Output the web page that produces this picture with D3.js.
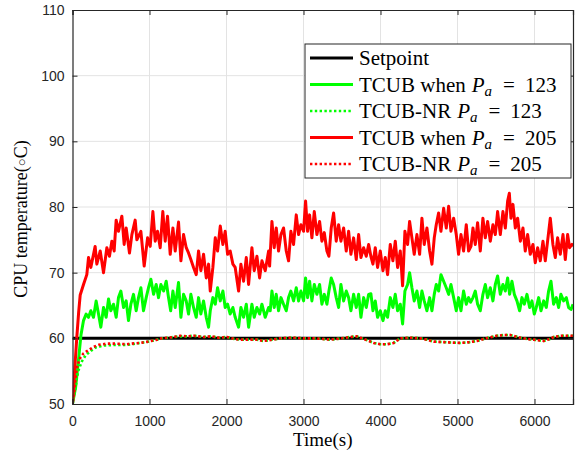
<!DOCTYPE html>
<html>
<head>
<meta charset="utf-8">
<script src="https://cdn.jsdelivr.net/npm/d3@7"></script>
<style>
  body { margin: 0; background: #fff; }
  .tick text { font-family: "Liberation Sans", Arial, sans-serif; font-size: 14px; fill: #262626; }
  .serif { font-family: "Liberation Serif", "Times New Roman", serif; fill: #000; }
</style>
</head>
<body>
<div id="chart"></div>
<script>
// values, [time (s), temperature (C)]
const setpoint = [[0, 60], [6500, 60]];

const tcub123 = [
  [0,50],[40,52.5],[80,57],[110,60.5],[143,62.7],[177,63.7],[208,63.2],[238,64.2],[273,63.2],[307,65.7],
  [338,63.7],[368,61.7],[403,64.7],[437,63.2],[468,66],[498,64.2],[533,65.2],[567,63.2],[597,66.2],[628,67.2],
  [663,64.7],[697,65.7],[727,62.7],[758,65.2],[792,66.7],[827,64.2],[857,66.2],[888,67.7],[922,64.2],[957,66.2],
  [987,67.7],[1018,69],[1053,66.7],[1087,68.2],[1117,66.2],[1148,68.2],[1183,67.2],[1217,68.7],[1247,66.2],[1275,64.2],
  [1304,67.2],[1334,64.7],[1377,68.5],[1408,63.2],[1442,66.7],[1477,65.7],[1507,63.7],[1537,66.7],[1572,64.7],[1607,63.2],
  [1637,66.2],[1667,63.7],[1702,65.7],[1737,63.2],[1767,61.7],[1789,64.2],[1823,66.2],[1854,65.2],[1884,67.7],[1919,65.7],
  [1953,67.2],[1983,64.7],[2014,65.2],[2048,63.7],[2083,64.7],[2113,63.2],[2157,61.7],[2187,64.7],[2222,63.2],[2257,65.2],
  [2287,61.7],[2330,65.2],[2360,63.2],[2395,64.7],[2430,63.7],[2460,65.2],[2503,63.2],[2547,64.7],[2568,64.2],[2590,67.2],
  [2620,64.7],[2646,66.7],[2676,64.2],[2707,66.2],[2741,65.2],[2776,64.2],[2806,66.2],[2836,67.2],[2871,65.7],[2906,67.7],
  [2936,65.7],[2966,67.2],[3001,65.7],[3027,69.2],[3053,66.2],[3079,68.7],[3109,65.7],[3140,68.2],[3174,66.7],[3209,68.2],
  [3239,65.2],[3270,66.7],[3304,65.2],[3330,67.2],[3360,69.2],[3391,68.2],[3425,66.2],[3456,64.7],[3486,68.2],[3521,65.7],
  [3555,67.2],[3586,66.2],[3616,64.2],[3651,66.7],[3685,64.7],[3716,66.7],[3746,63.2],[3781,66.2],[3815,64.7],[3846,66.7],
  [3875,66.8],[3902,64.2],[3932,65.7],[3962,63.2],[3997,64.2],[4032,62.7],[4062,64.2],[4092,63.2],[4127,66.2],[4161,64.7],
  [4192,66.7],[4222,64.2],[4257,65.2],[4287,62.2],[4317,67.2],[4352,68.2],[4378,70],[4408,67.7],[4438,65.7],[4473,67.2],
  [4508,64.7],[4538,67.2],[4568,65.7],[4603,64.2],[4638,66.2],[4668,64.2],[4698,66.7],[4724,68.2],[4755,67.2],[4785,69.7],
  [4820,68.7],[4854,67.7],[4885,66.7],[4915,68.2],[4950,66.2],[4984,64.2],[5014,66.2],[5045,64.2],[5079,67.2],[5114,65.2],
  [5144,66.2],[5170,65.5],[5201,66.2],[5231,67.2],[5261,65.2],[5296,64.2],[5330,66.7],[5361,68.2],[5391,66.2],[5426,67.7],
  [5460,65.7],[5491,68.2],[5521,69.5],[5556,66.7],[5590,68.2],[5621,67.2],[5651,69.2],[5677,66.7],[5707,68.7],[5738,66.7],
  [5772,65.7],[5807,64.2],[5837,66.2],[5868,65.2],[5902,66.7],[5937,64.7],[5967,65.7],[5997,63.7],[6023,64.7],[6054,66.2],
  [6084,64.2],[6119,65.7],[6153,64.7],[6183,67.2],[6214,68.7],[6248,65.2],[6283,66.2],[6313,64.7],[6343,66.7],[6378,65.7],
  [6413,66.2],[6443,64.7],[6474,64.4],[6500,65.2]
];

const tcub205 = [
  [0,50],[30,55.5],[55,60],[80,64],[100,66.6],[143,68.2],[186,69.7],[208,72.3],[238,70.8],[294,74],
  [316,71.3],[360,73.3],[403,70],[446,73.8],[480,72.5],[511,74.8],[541,73.3],[567,78],[597,76.3],[641,78.6],
  [671,74.3],[697,76.8],[740,73],[771,75.8],[814,78],[836,75],[888,76.3],[931,71],[975,75.3],[1009,74],
  [1044,79.3],[1074,74.8],[1104,76.3],[1139,73.8],[1173,79.3],[1204,74.8],[1234,78.6],[1269,72.8],[1304,76.8],[1334,73.3],
  [1377,77.7],[1408,71.8],[1442,75.8],[1477,73.8],[1507,73],[1537,72],[1572,70.8],[1607,69.7],[1637,73.3],[1667,70.3],
  [1702,72.8],[1737,69.2],[1767,71.3],[1789,67.2],[1823,70.8],[1854,75.3],[1884,73.3],[1919,77.1],[1953,74.3],[1983,76.3],
  [2014,72.8],[2048,73.3],[2083,71.3],[2113,70.8],[2157,67.2],[2187,71.3],[2222,68.7],[2257,72.3],[2287,68.2],[2330,73.8],
  [2360,70.3],[2395,72.5],[2430,69.2],[2460,71.8],[2503,70.3],[2547,73.3],[2560,71],[2590,77.8],[2620,73.8],[2646,76.8],
  [2676,73.3],[2707,75.8],[2741,76.8],[2776,73.3],[2806,71.8],[2836,76.3],[2871,74.3],[2906,78.8],[2936,75.8],[2966,77.3],
  [3001,76.3],[3027,80.9],[3053,76.3],[3079,78.8],[3109,75.3],[3140,79.3],[3174,75.8],[3209,77.8],[3239,74.8],[3270,76.1],
  [3304,73.3],[3330,72.5],[3360,76.8],[3391,79.1],[3425,74.8],[3456,77.3],[3486,74.8],[3521,76.8],[3555,73.3],[3586,76.3],
  [3616,72.8],[3651,75.3],[3685,72],[3716,75.8],[3746,72.3],[3781,73.8],[3815,72.5],[3846,74.3],[3875,72.5],[3902,71.3],
  [3932,73.8],[3962,70.8],[3997,73.3],[4032,70.3],[4062,72.3],[4092,69.7],[4127,74.3],[4161,71.8],[4192,74.8],[4222,70.8],
  [4257,73.3],[4287,68],[4317,76.3],[4352,74.3],[4378,77.8],[4408,75.3],[4438,72.8],[4473,75.8],[4508,72.8],[4538,78.3],
  [4568,74.3],[4603,76.8],[4638,73.3],[4668,71.3],[4698,75.3],[4724,77.3],[4755,79.1],[4785,76.3],[4820,79.8],[4854,76.8],
  [4885,80.1],[4915,76.3],[4950,78.3],[4984,75.8],[5014,72.8],[5045,75.8],[5079,73.3],[5114,77.3],[5144,73.3],[5175,74],
  [5201,76.8],[5231,74.3],[5261,77.6],[5296,73.3],[5330,78.3],[5361,75.3],[5391,77.8],[5426,74.8],[5460,77.3],[5491,75.8],
  [5521,79.3],[5556,75.8],[5590,79.3],[5621,76.8],[5651,80.9],[5673,82.1],[5694,78.3],[5720,80.4],[5751,76.8],[5781,78.3],
  [5816,74.8],[5850,76.8],[5880,73.3],[5911,75.8],[5945,72.8],[5980,74.3],[6010,71.5],[6041,73.8],[6075,71.8],[6110,74.8],
  [6140,71.8],[6170,74.8],[6205,78.3],[6239,74.3],[6270,72.3],[6300,75.3],[6335,72.8],[6370,75.8],[6400,72],[6430,75.8],
  [6456,73.8],[6487,74.3],[6500,74]
];

const nr123 = [
  [0,50],[40,52.5],[60,54.2],[80,55.2],[122,56.5],[170,57.4],[240,58.1],[300,58.6],[400,58.9],[554,59],
  [700,59],[771,59.1],[880,59.3],[987,59.5],[1100,59.8],[1161,60],[1250,60.1],[1312,60.2],[1400,60.3],[1500,60.3],
  [1572,60.4],[1700,60.2],[1800,60.3],[1900,60.1],[2005,60.2],[2100,59.9],[2180,59.8],[2300,59.8],[2395,59.8],[2482,59.6],
  [2600,59.8],[2700,60],[2850,60.1],[3000,60],[3130,60],[3250,59.9],[3348,59.8],[3500,60],[3600,60.2],[3694,60.3],
  [3781,59.9],[3850,59.6],[3911,59.3],[4000,59.1],[4084,59.1],[4171,59.3],[4257,60],[4400,60.1],[4517,60],[4600,59.8],
  [4690,59.5],[4850,59.4],[5036,59.3],[5150,59.4],[5253,59.6],[5400,60.1],[5513,60.4],[5600,60.5],[5686,60.5],[5816,60.1],
  [5900,59.9],[5989,59.8],[6119,59.6],[6200,59.9],[6249,60.2],[6350,60.4],[6422,60.4],[6500,60.4]
];

const nr205 = [
  [0,50],[20,51.5],[40,54],[57,55.5],[78,56.3],[100,57],[143,57.7],[208,58.2],[273,58.7],[338,59],
  [450,59.2],[554,59.2],[700,59.1],[771,59.2],[880,59.3],[987,59.5],[1100,59.8],[1161,60],[1250,60.1],[1312,60.2],
  [1400,60.4],[1500,60.3],[1572,60.4],[1700,60.2],[1800,60.3],[1900,60.1],[2005,60.2],[2100,59.9],[2180,59.8],[2300,59.8],
  [2395,59.8],[2482,59.6],[2600,59.8],[2700,60],[2850,60.1],[3000,60],[3130,60],[3250,59.9],[3348,59.8],[3500,60],
  [3600,60.2],[3694,60.3],[3781,59.9],[3850,59.6],[3911,59.3],[4000,59.1],[4084,59.1],[4171,59.3],[4257,60],[4400,60.1],
  [4517,60],[4600,59.8],[4690,59.5],[4850,59.4],[5036,59.3],[5150,59.4],[5253,59.6],[5400,60.1],[5513,60.4],[5600,60.5],
  [5686,60.5],[5816,60.1],[5900,59.9],[5989,59.8],[6119,59.6],[6200,59.9],[6249,60.2],[6350,60.4],[6422,60.4],[6500,60.4]
];

const xTicks = [0, 1000, 2000, 3000, 4000, 5000, 6000];
const yTicks = [50, 60, 70, 80, 90, 100, 110];

const legendLabels = [
  { text: 'Setpoint', pa: null },
  { text: 'TCUB when', pa: '123' },
  { text: 'TCUB-NR', pa: '123' },
  { text: 'TCUB when', pa: '205' },
  { text: 'TCUB-NR', pa: '205' },
];

const config = {
  width: 584, height: 453,
  margin: { top: 10, right: 11, bottom: 49, left: 72.5 },
};

const innerW = config.width - config.margin.left - config.margin.right;
const innerH = config.height - config.margin.top - config.margin.bottom;

const svg = d3.select('#chart').append('svg')
  .attr('width', config.width)
  .attr('height', config.height);

const g = svg.append('g')
  .attr('transform', `translate(${config.margin.left},${config.margin.top})`);

const xScale = d3.scaleLinear().domain([0, 6500]).range([0, innerW]);
const yScale = d3.scaleLinear().domain([50, 110]).range([innerH, 0]);

// grid
g.append('g').selectAll('line').data(xTicks.slice(1)).join('line')
  .attr('x1', (d) => xScale(d)).attr('x2', (d) => xScale(d))
  .attr('y1', 0).attr('y2', innerH)
  .attr('stroke', '#e3e3e3').attr('stroke-width', 1);
g.append('g').selectAll('line').data(yTicks.slice(1, -1)).join('line')
  .attr('x1', 0).attr('x2', innerW)
  .attr('y1', (d) => yScale(d)).attr('y2', (d) => yScale(d))
  .attr('stroke', '#e3e3e3').attr('stroke-width', 1);

g.append('clipPath').attr('id', 'clip')
  .append('rect').attr('width', innerW).attr('height', innerH);

const line = d3.line().x((d) => xScale(d[0])).y((d) => yScale(d[1]));

const plot = g.append('g').attr('clip-path', 'url(#clip)');

const series = [
  { data: setpoint, color: '#000', dash: null, width: 3 },
  { data: tcub123, color: '#00ff00', dash: null, width: 3 },
  { data: nr123, color: '#00ff00', dash: '2.4,2.4', width: 2.6, offset: 0 },
  { data: tcub205, color: '#ff0000', dash: null, width: 3 },
  { data: nr205, color: '#ff0000', dash: '2.4,2.4', width: 2.6, offset: 2.4 },
];

series.forEach((s) => {
  plot.append('path')
    .datum(s.data)
    .attr('fill', 'none')
    .attr('stroke', s.color)
    .attr('stroke-width', s.width)
    .attr('stroke-linejoin', 'round')
    .attr('stroke-dasharray', s.dash)
    .attr('stroke-dashoffset', s.offset || 0)
    .attr('d', line);
});

// axes (box with inward ticks)
const xAxis = d3.axisBottom(xScale).tickValues(xTicks).tickFormat(d3.format('d'))
  .tickSize(-5).tickPadding(12);
const yAxis = d3.axisLeft(yScale).tickValues(yTicks).tickFormat(d3.format('d'))
  .tickSize(-5).tickPadding(8);

const styleAxis = (sel) => {
  sel.select('.domain').attr('stroke', '#262626').attr('stroke-width', 1.2);
  sel.selectAll('.tick line').attr('stroke', '#262626');
};

g.append('g').attr('transform', `translate(0,${innerH})`).call(xAxis).call(styleAxis);
g.append('g').call(yAxis).call(styleAxis);
g.append('g').call(d3.axisTop(xScale).tickValues(xTicks).tickSize(-5).tickFormat(''))
  .call(styleAxis);
g.append('g').attr('transform', `translate(${innerW},0)`)
  .call(d3.axisRight(yScale).tickValues(yTicks).tickSize(-5).tickFormat(''))
  .call(styleAxis);

// axis labels
svg.append('text').attr('class', 'serif')
  .attr('x', config.margin.left + innerW / 2).attr('y', 446)
  .attr('text-anchor', 'middle').attr('font-size', 19)
  .text('Time(s)');

const yl = svg.append('text').attr('class', 'serif')
  .attr('transform', 'translate(27,219) rotate(-90)')
  .attr('text-anchor', 'middle').attr('font-size', 18);
yl.append('tspan').text('CPU temperature(');
yl.append('tspan').attr('font-size', 13).attr('dy', -1).text('○');
yl.append('tspan').attr('dy', 1).text('C)');

// legend
const legend = svg.append('g').attr('transform', 'translate(305,44)');
legend.append('rect')
  .attr('width', 266).attr('height', 134)
  .attr('fill', '#fff').attr('stroke', '#262626').attr('stroke-width', 1);

legendLabels.forEach((d, i) => {
  const cy = 14 + i * 26.5;
  const s = series[i];
  legend.append('line')
    .attr('x1', 5).attr('x2', 48).attr('y1', cy).attr('y2', cy)
    .attr('stroke', s.color).attr('stroke-width', s.width)
    .attr('stroke-dasharray', s.dash);
  const t = legend.append('text').attr('class', 'serif')
    .attr('x', 54).attr('y', cy + 7).attr('font-size', 21);
  t.append('tspan').text(d.text);
  if (d.pa) {
    t.append('tspan').attr('font-style', 'italic').attr('dx', 6).text('P');
    t.append('tspan').attr('font-style', 'italic').attr('font-size', 15).attr('dy', 4).text('a');
    t.append('tspan').attr('dy', -4).attr('dx', 11).text('=');
    t.append('tspan').attr('dx', 10).text(d.pa);
  }
});
</script>
</body>
</html>
